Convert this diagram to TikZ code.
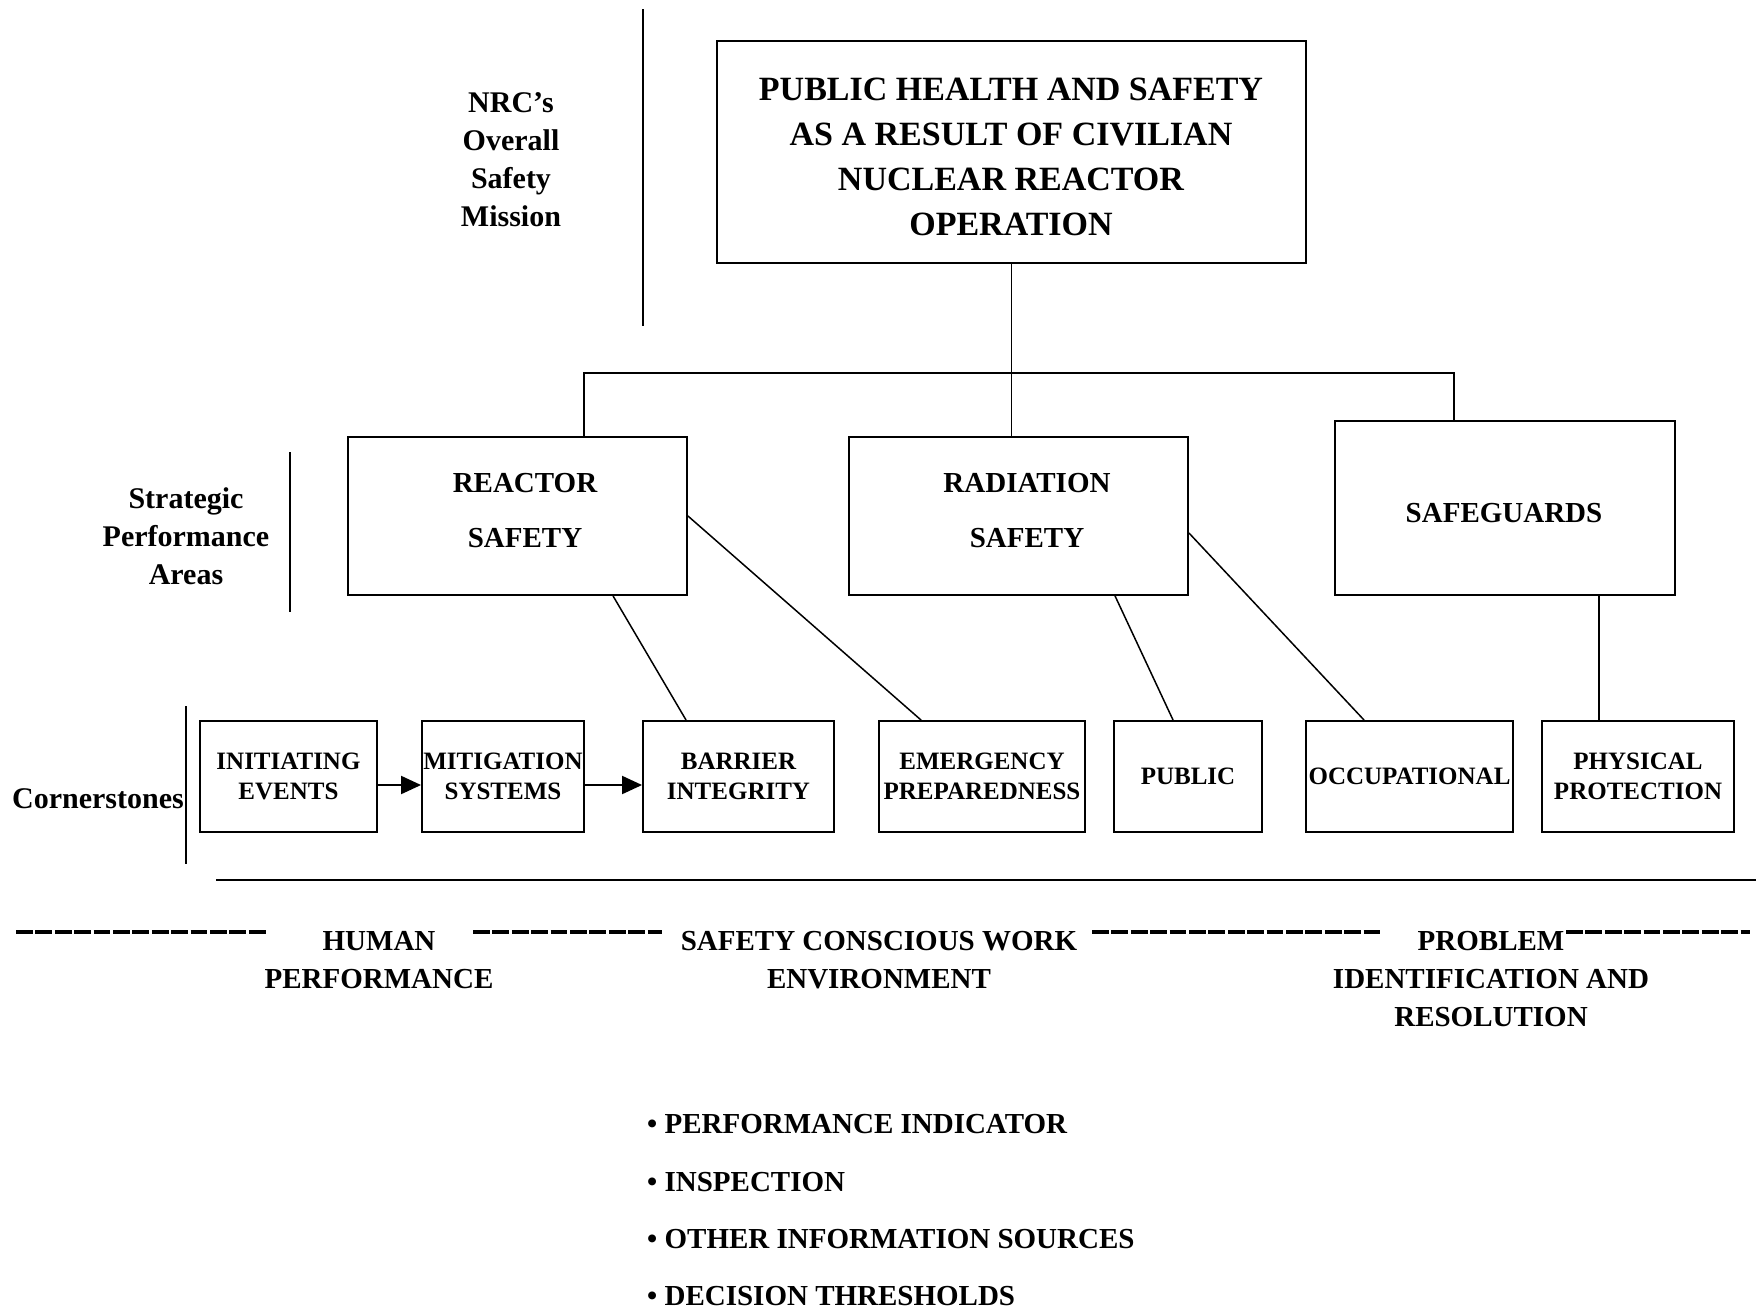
\documentclass[tikz,border=0pt]{standalone}
\usepackage{fontspec}
\setmainfont{Liberation Serif}
\usetikzlibrary{arrows.meta}

\begin{document}
\begin{tikzpicture}[x=1pt,y=-1pt,
  box/.style={draw, rectangle, line width=1.9pt, inner sep=0pt},
  link/.style={line width=1.5pt},
  flow/.style={line width=2pt, -{Triangle[length=20pt,width=18pt]}},
  rule/.style={line width=1.5pt},
  theme/.style={line width=4pt, dash pattern=on 16.8pt off 2.6pt},
  missiontext/.style={font=\bfseries\fontsize{34}{45}\selectfont, align=center, inner sep=0pt},
  areatext/.style={font=\bfseries\fontsize{29}{55.5}\selectfont, align=center, inner sep=0pt},
  stonetext/.style={font=\bfseries\fontsize{25}{30}\selectfont, align=center},
  sidetext/.style={font=\bfseries\fontsize{30}{38}\selectfont, align=center, inner sep=0pt},
  themetext/.style={font=\bfseries\fontsize{29}{38}\selectfont, align=center, inner sep=0pt},
  itemtext/.style={font=\bfseries\fontsize{29}{35}\selectfont, anchor=base west, inner sep=0pt}
]
% page
\fill[white] (0,0) rectangle (1756,1310);
\path[use as bounding box] (0,0) rectangle (1756,1310);

% ---- level labels and their separators ----
\node[sidetext] (lvl1) at (511,159.5) {NRC’s\\Overall\\Safety\\Mission};
\node[sidetext] (lvl2) at (186,536.5) {Strategic\\Performance\\Areas};
\node[sidetext] (lvl3) at (98,799) {Cornerstones};
\coordinate (sep1a) at (643,9);   \coordinate (sep1b) at (643,326);
\coordinate (sep2a) at (290,452); \coordinate (sep2b) at (290,612);
\coordinate (sep3a) at (186,706); \coordinate (sep3b) at (186,864);
\draw[rule] (sep1a) -- (sep1b);
\draw[rule] (sep2a) -- (sep2b);
\draw[rule] (sep3a) -- (sep3b);

% ---- overall mission ----
\node[box, minimum width=589pt, minimum height=222pt] (mission) at (1011.5,152) {};
\node[missiontext] (mission-t) at (1011,157)
  {PUBLIC HEALTH AND SAFETY\\AS A RESULT OF CIVILIAN\\NUCLEAR REACTOR\\OPERATION};

% ---- strategic performance areas ----
\node[box, minimum width=339pt, minimum height=158pt] (rs) at (517.5,516) {};
\node[areatext] (rs-t) at (525,510.5) {REACTOR\\SAFETY};
\node[box, minimum width=339pt, minimum height=158pt] (rad) at (1018.5,516) {};
\node[areatext] (rad-t) at (1027,510.5) {RADIATION\\SAFETY};
\node[box, minimum width=340pt, minimum height=174pt] (sg) at (1505,508) {};
\node[areatext] (sg-t) at (1504,513) {SAFEGUARDS};

% ---- cornerstones ----
\node[box, stonetext, minimum width=177pt, minimum height=111pt] (ie) at (288.5,776.5) {INITIATING\\EVENTS};
\node[box, stonetext, minimum width=162pt, minimum height=111pt] (ms) at (503,776.5) {MITIGATION\\SYSTEMS};
\node[box, stonetext, minimum width=191pt, minimum height=111pt] (bi) at (738.5,776.5) {BARRIER\\INTEGRITY};
\node[box, stonetext, minimum width=206pt, minimum height=111pt] (ep) at (982,776.5) {EMERGENCY\\PREPAREDNESS};
\node[box, stonetext, minimum width=148pt, minimum height=111pt] (pu) at (1188,776.5) {PUBLIC};
\node[box, stonetext, minimum width=207pt, minimum height=111pt] (oc) at (1409.5,776.5) {OCCUPATIONAL};
\node[box, stonetext, minimum width=192pt, minimum height=111pt] (pp) at (1638,776.5) {PHYSICAL\\PROTECTION};

% ---- tree connectors ----
\coordinate (busL) at (584,373);
\coordinate (busR) at (1454,373);
\draw[link] (mission.south) -- (mission.south |- rad.north);
\draw[link] (busL |- rs.north) -- (busL) -- (busR) -- (busR |- sg.north);

\draw[link] ([xshift=266pt]rs.south west) -- ([xshift=44pt]bi.north west);
\draw[link] (rs.east) -- ([xshift=43pt]ep.north west);
\draw[link] ([xshift=267pt]rad.south west) -- ([xshift=60pt]pu.north west);
\draw[link] ([yshift=-17pt]rad.east) -- ([xshift=59pt]oc.north west);
\coordinate (sgB) at ([xshift=265pt]sg.south west);
\draw[link] (sgB) -- (sgB |- pp.north);

% ---- reactor safety sequence ----
\draw[flow] ([yshift=-8.5pt]ie.east) -- ([yshift=-8.5pt]ms.west);
\draw[flow] ([yshift=-8.5pt]ms.east) -- ([yshift=-8.5pt]bi.west);

% ---- cross-cutting themes ----
\coordinate (baseA) at (216,880); \coordinate (baseB) at (1756,880);
\draw[line width=2.8pt] (baseA) -- (baseB);

\draw[theme] (16,932) -- (265.6,932);
\draw[theme] (473,932) -- (661.6,932);
\draw[theme] (1092,932) -- (1380.4,932);
\draw[theme] (1566,932) -- (1750,932);

\node[themetext] (hp) at (379,960) {HUMAN\\PERFORMANCE};
\node[themetext] (scwe) at (879,960) {SAFETY CONSCIOUS WORK\\ENVIRONMENT};
\node[themetext] (pir) at (1491,979) {PROBLEM\\IDENTIFICATION AND\\RESOLUTION};

% ---- assessment inputs ----
\node[itemtext] (in1) at (647,1133.6) {• PERFORMANCE INDICATOR};
\node[itemtext] (in2) at (647,1191.6) {• INSPECTION};
\node[itemtext] (in3) at (647,1248.6) {• OTHER INFORMATION SOURCES};
\node[itemtext] (in4) at (647,1305.6) {• DECISION THRESHOLDS};
\end{tikzpicture}
\end{document}
